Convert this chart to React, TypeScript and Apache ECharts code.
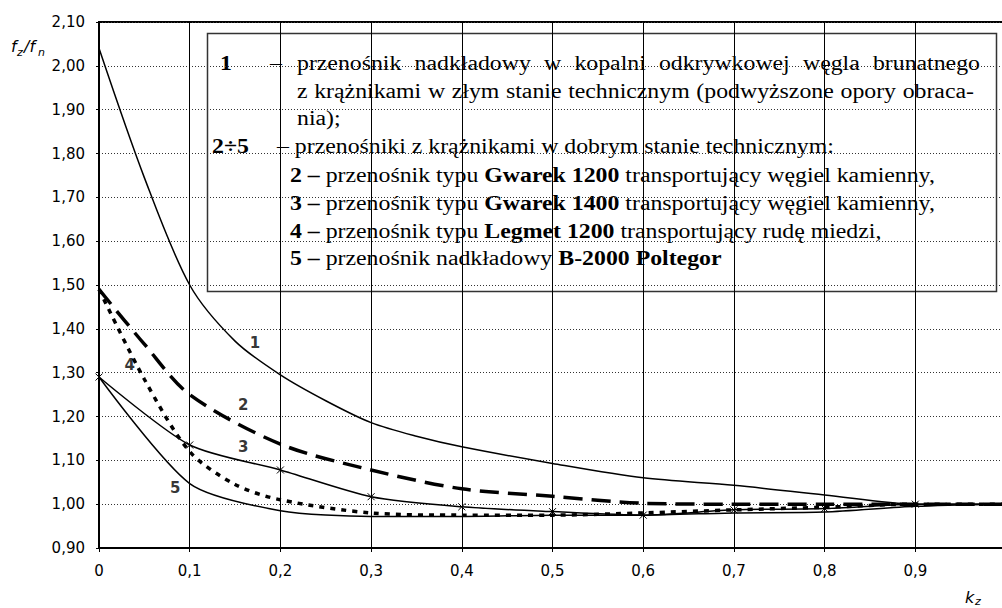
import React, { useEffect, useRef } from 'react';
import * as echarts from 'echarts';

// ---- data (k_z on x, f_z/f_n on y) ----
const xMain = [0, 0.1, 0.2, 0.3, 0.4, 0.5, 0.6, 0.7, 0.8, 0.9, 1.0];
const x1 = [0, 0.05, 0.1, 0.15, 0.2, 0.25, 0.3, 0.35, 0.4, 0.5, 0.6, 0.7, 0.8, 0.9, 1.0];
const y1 = [2.04, 1.745, 1.5, 1.372, 1.295, 1.236, 1.186, 1.155, 1.131, 1.093, 1.06, 1.043, 1.021, 1.0, 1.0];
const x2 = [0, 0.05, 0.1, 0.2, 0.3, 0.4, 0.5, 0.6, 0.7, 0.8, 0.9, 1.0];
const y2 = [1.49, 1.365, 1.25, 1.137, 1.078, 1.035, 1.018, 1.002, 1.0, 1.0, 1.0, 1.0];
const y3 = [1.29, 1.135, 1.078, 1.017, 0.994, 0.983, 0.975, 0.987, 0.99, 1.0, 1.0];
const x4 = [0, 0.05, 0.1, 0.15, 0.2, 0.3, 0.4, 0.5, 0.6, 0.7, 0.8, 0.9, 1.0];
const y4 = [1.49, 1.285, 1.12, 1.045, 1.01, 0.98, 0.975, 0.975, 0.98, 0.987, 0.993, 1.0, 1.0];
const y5 = [1.29, 1.047, 0.985, 0.972, 0.972, 0.975, 0.975, 0.98, 0.982, 0.995, 1.0];

const curveLabels: [number, number, string][] = [
  [0.172, 1.368, '1'],
  [0.159, 1.226, '2'],
  [0.159, 1.13, '3'],
  [0.034, 1.317, '4'],
  [0.084, 1.037, '5'],
];

const legendLine1 = 'przenośnik nadkładowy w kopalni odkrywkowej węgla brunatnego';
const legendLine2 = 'z krążnikami w złym stanie technicznym (podwyższone opory obraca-';
const legendLine3 = 'nia);';
const legendLine4 = '– przenośniki z krążnikami w dobrym stanie technicznym:';
const legendItems: [string, string, string, string][] = [
  ['2 –', ' przenośnik typu ', 'Gwarek 1200', ' transportujący węgiel kamienny,'],
  ['3 –', ' przenośnik typu ', 'Gwarek 1400', ' transportujący węgiel kamienny,'],
  ['4 –', ' przenośnik typu ', 'Legmet 1200', ' transportujący rudę miedzi,'],
  ['5 –', ' przenośnik nadkładowy ', 'B-2000 Poltegor', ''],
];

const zip = (xs: number[], ys: number[]) => xs.map((x, i) => [x, ys[i]]);

const SERIF = '"Liberation Serif", "Times New Roman", serif';
const SANS = '"DejaVu Sans", sans-serif';
const FS = 20;
const SX = 1.19;

export default function App() {
  const ref = useRef<HTMLDivElement>(null);

  useEffect(() => {
    if (!ref.current) return;
    const chart = echarts.init(ref.current, null, { renderer: 'svg' });

    const canvas = document.createElement('canvas');
    const ctx = canvas.getContext('2d')!;
    const measure = (t: string) => {
      ctx.font = `${FS}px ${SERIF}`;
      return ctx.measureText(t).width * SX;
    };
    const tStyle = (text: string, bold = false) => ({
      text, fontFamily: SERIF, fontSize: FS, fontWeight: bold ? 'bold' : 'normal', fill: '#000', verticalAlign: 'middle', align: 'left',
    });
    const justify = (line: string, xa: number, xb: number, y: number) => {
      const words = line.split(' ');
      const widths = words.map(measure);
      const total = widths.reduce((a, b) => a + b, 0);
      const gap = (xb - xa - total) / (words.length - 1);
      let x = xa;
      return words.map((w, i) => {
        const el = { type: 'text', x, y, scaleX: SX, style: tStyle(w) };
        x += widths[i] + gap;
        return el;
      });
    };

    const rows = [63, 91, 118.5, 146.5, 175, 203, 231, 258.5];
    const rich = {
      b: { fontFamily: SERIF, fontSize: FS, fontWeight: 'bold', fill: '#000' },
      n: { fontFamily: SERIF, fontSize: FS, fontWeight: 'normal', fill: '#000' },
    };

    const legendChildren: any[] = [
      { type: 'rect', shape: { x: 207.5, y: 33.5, width: 789, height: 258 }, style: { fill: '#fff', stroke: '#333', lineWidth: 1.5 } },
      { type: 'text', x: 220, y: rows[0], scaleX: SX, style: tStyle('1', true) },
      { type: 'text', x: 270, y: rows[0], scaleX: SX, style: tStyle('–') },
      ...justify(legendLine1, 297, 980, rows[0]),
      ...justify(legendLine2, 297, 974, rows[1]),
      { type: 'text', x: 297, y: rows[2], scaleX: SX, style: tStyle(legendLine3) },
      { type: 'text', x: 212, y: rows[3], scaleX: SX, style: tStyle('2÷5', true) },
      { type: 'text', x: 277, y: rows[3], scaleX: SX, style: tStyle(legendLine4) },
      ...legendItems.map((it, i) => ({
        type: 'text', x: 290, y: rows[4 + i], scaleX: SX,
        style: {
          text: `{b|${it[0]}}{n|${it[1]}}{b|${it[2]}}` + (it[3] ? `{n|${it[3]}}` : ''),
          rich, fontFamily: SERIF, fontSize: FS, fill: '#000', verticalAlign: 'middle', align: 'left',
        },
      })),
    ];

    const ital = (text: string, x: number, y: number, size: number) => ({
      type: 'text', x, y,
      style: { text, fontFamily: SANS, fontSize: size, fontStyle: 'italic', fill: '#000', verticalAlign: 'middle', align: 'left' },
    });

    const lineBase = { type: 'line', symbol: 'none', z: 3 };

    chart.setOption({
      animation: false,
      backgroundColor: '#fff',
      grid: { left: 99, top: 22, right: 4, bottom: 60, show: true, borderColor: '#000', borderWidth: 2, backgroundColor: 'transparent' },
      xAxis: {
        type: 'value', min: 0, max: 1, interval: 0.1,
        axisLine: { show: true, lineStyle: { color: '#000', width: 2 } },
        axisTick: { show: true, length: 4, lineStyle: { color: '#000' } },
        splitLine: { show: true, lineStyle: { color: '#000', width: 1, type: 'solid' } },
        axisLabel: {
          color: '#000', fontFamily: SANS, fontSize: 15, margin: 15,
          formatter: (v: number) => (v > 0.95 ? '' : v === 0 ? '0' : v.toFixed(1).replace('.', ',')),
        },
      },
      yAxis: {
        type: 'value', min: 0.9, max: 2.1, interval: 0.1,
        axisLine: { show: true, lineStyle: { color: '#000', width: 2 } },
        axisTick: { show: true, length: 3, lineStyle: { color: '#000' } },
        splitLine: { show: true, lineStyle: { color: '#333', width: 1, type: [1, 2] } },
        axisLabel: {
          color: '#000', fontFamily: SANS, fontSize: 15, margin: 14,
          formatter: (v: number) => v.toFixed(2).replace('.', ','),
        },
      },
      series: [
        { ...lineBase, name: '1', data: zip(x1, y1), smooth: 0.3, lineStyle: { color: '#000', width: 1.5 } },
        { ...lineBase, name: '2', data: zip(x2, y2), smooth: 0.3, lineStyle: { color: '#000', width: 3.5, type: [19, 9] } },
        {
          ...lineBase, name: '3', data: zip(xMain, y3), smooth: 0.25,
          symbol: 'path://M0,0L10,10M10,0L0,10', symbolSize: 7, showSymbol: true,
          itemStyle: { color: 'none', borderColor: '#000', borderWidth: 1 },
          lineStyle: { color: '#000', width: 1.5 },
        },
        { ...lineBase, name: '4', data: zip(x4, y4), smooth: 0.3, lineStyle: { color: '#000', width: 3.5, type: [5, 6], cap: 'butt' } },
        { ...lineBase, name: '5', data: zip(xMain, y5), smooth: 0.25, lineStyle: { color: '#000', width: 1.5 } },
        {
          type: 'scatter', name: 'labels', symbolSize: 0, z: 5,
          itemStyle: { color: 'transparent' },
          data: curveLabels,
          label: {
            show: true, position: 'inside', formatter: (p: any) => p.data[2],
            color: '#000', fontFamily: SANS, fontSize: 15, fontWeight: 'bold',
          },
        },
      ],
      graphic: [
        { type: 'group', z: 100, children: legendChildren },
        ital('f', 11, 46, 16),
        { type: 'text', x: 17, y: 52, style: { text: 'z', fontFamily: SANS, fontSize: 11, fontStyle: 'italic', fill: '#000', verticalAlign: 'middle' } },
        ital('/f', 24, 46, 16),
        { type: 'text', x: 38, y: 52, style: { text: 'n', fontFamily: SANS, fontSize: 11, fontStyle: 'italic', fill: '#000', verticalAlign: 'middle' } },
        ital('k', 965, 597, 16),
        { type: 'text', x: 975, y: 601, style: { text: 'z', fontFamily: SANS, fontSize: 11, fontStyle: 'italic', fill: '#000', verticalAlign: 'middle' } },
      ],
    });

    return () => chart.dispose();
  }, []);

  return (
    <div style={{ position: 'absolute', left: 0, top: 0, width: 1002, height: 608, overflow: 'hidden', background: '#fff' }}>
      <div ref={ref} style={{ width: 1010, height: 608 }} />
    </div>
  );
}
